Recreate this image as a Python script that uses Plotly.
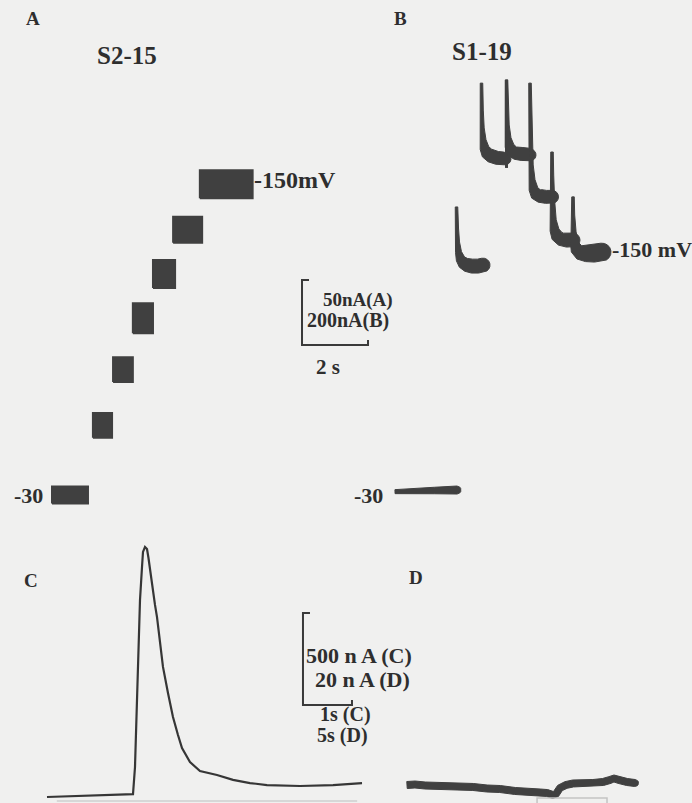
import math
import plotly.graph_objects as go

W, H = 692, 803

# ---------------- DATA ----------------
# Panel A (S2-15): steady current at successive holding potentials
A_voltage_mV = [-30, -50, -70, -90, -110, -130, -150]
A_step_start_s = [0.00, 1.24, 1.85, 2.45, 3.06, 3.67, 4.48]
A_step_end_s = [1.09, 1.82, 2.45, 3.06, 3.73, 4.55, 6.08]
A_current_nA = [0.0, 53.5, 96.5, 136.0, 170.0, 204.0, 239.0]
A_noise_pp_nA = [13.0, 19.0, 19.0, 23.0, 21.5, 20.0, 21.5]

# Panel B (S1-19): holding line at -30 mV and transient currents on stepping
B_hold_t = [0.00, 0.60, 1.20, 1.88]
B_hold_I = [-2.0, 0.0, 1.5, 3.0]
B_hook_t = [
    [1.864, 1.879, 1.894, 1.924, 1.985, 2.076, 2.182, 2.333, 2.515, 2.667],
    [2.621, 2.630, 2.642, 2.667, 2.712, 2.788, 2.909, 3.091, 3.273, 3.333],
    [3.379, 3.379, 3.388, 3.400, 3.424, 3.470, 3.545, 3.667, 3.848, 4.030, 4.091],
    [4.091, 4.100, 4.112, 4.127, 4.152, 4.197, 4.273, 4.394, 4.576, 4.758],
    [4.758, 4.764, 4.776, 4.794, 4.833, 4.909, 5.030, 5.212, 5.394],
    [5.394, 5.400, 5.412, 5.439, 5.500, 5.606, 5.788, 6.030, 6.273],
]
B_hook_I = [
    [874, 809, 766, 735, 714, 702, 695, 692, 692, 695],
    [1255, 1172, 1117, 1080, 1055, 1040, 1031, 1025, 1023, 1022],
    [994, 1265, 1188, 1126, 1086, 1062, 1046, 1040, 1037, 1035, 1034],
    [1255, 1172, 1080, 1003, 957, 929, 914, 908, 905, 905],
    [1043, 972, 895, 834, 803, 785, 775, 772, 772],
    [905, 849, 797, 763, 745, 735, 732, 732, 735],
]

# Panel C: large transient current
C_t = [0.000, 0.878, 1.755, 1.796, 1.837, 1.857, 1.898, 1.939, 1.959, 2.000,
       2.041, 2.071, 2.102, 2.143, 2.204, 2.245, 2.306, 2.367, 2.469, 2.571,
       2.673, 2.755, 2.918, 3.122, 3.469, 3.796, 4.143, 4.490, 5.163, 5.837, 6.429]
C_I = [-11, -5, 5, 152, 516, 788, 1060, 1239, 1321, 1348,
       1337, 1288, 1223, 1152, 1033, 967, 842, 696, 554, 424,
       326, 255, 179, 130, 109, 82, 65, 54, 49, 54, 65]

# Panel D: small slow current
D_t = [0.00, 0.82, 1.84, 3.37, 4.90, 6.74, 8.16, 9.49, 11.02, 12.24, 13.57,
       14.29, 14.90, 15.20, 15.61, 16.22, 16.94, 17.96, 18.98, 20.00, 20.71,
       21.12, 21.63, 22.45, 23.27]
D_I = [0.00, 0.11, -0.11, -0.22, -0.33, -0.43, -0.76, -0.87, -1.30, -1.52, -1.63,
       -1.74, -2.17, -1.96, -0.65, 0.00, 0.33, 0.43, 0.43, 0.65, 1.09,
       1.41, 1.09, 0.65, 0.43]

# stimulus markers (cut at lower edge)
C_marker_t = [0.20, 6.33]
C_marker_I = [-33, -33]
D_marker_t = [13.27, 13.27, 20.41, 20.41]
D_marker_I = [-4.0, -2.8, -2.8, -4.0]

# scale bars
AB_scale = dict(t0=7.576, I0=115.4, dI=50.0, dt=2.0)     # drawn in panel A units
CD_scale = dict(t0=5.224, I0=489.0, dI=500.0, dt=1.0)    # drawn in panel C units

# ---------------- STYLE / LAYOUT ----------------
BG = "#f0f0ef"
INK = "#404040"
TXT = "#2e2e2e"
FONT = "Liberation Serif"

PANEL = {
    "A": dict(ox=52, oy=495, sx=33.0, sy=1.3),
    "B": dict(ox=395, oy=491, sx=33.0, sy=0.325),
    "C": dict(ox=47, oy=795, sx=49.0, sy=0.184),
    "D": dict(ox=407, oy=785, sx=9.8, sy=4.6),
}
AX = {"A": ("x", "y"), "B": ("x2", "y2"), "C": ("x3", "y3"), "D": ("x4", "y4")}

# stroke widths (px) along each B trace
B_hold_w = [4, 5, 6.5, 8]
B_hook_w = [
    [2.5, 3, 4, 6, 9, 12, 13, 14, 14, 14],
    [2.5, 3, 4, 6, 9, 12, 13, 13, 13, 12],
    [3, 2.5, 3, 4, 6, 9, 12, 13, 13, 13, 12],
    [2.5, 3, 3.5, 4, 6, 9, 12, 13, 13, 13],
    [2.5, 3, 4, 6, 9, 12, 13, 14, 14],
    [2.5, 3, 5, 8, 12, 15, 17, 18, 18],
]
D_w = 7

fig = go.Figure()


def add(panel, **kw):
    xa, ya = AX[panel]
    kw.setdefault("hoverinfo", "skip")
    kw.setdefault("showlegend", False)
    fig.add_trace(go.Scatter(xaxis=xa, yaxis=ya, **kw))


def brush(panel, t, I, widths, color=INK):
    """variable-width stroke drawn as a filled outline around the data line"""
    p = PANEL[panel]
    px = [p["ox"] + p["sx"] * a for a in t]
    py = [p["oy"] - p["sy"] * b for b in I]
    n = len(px)
    left, right = [], []
    for i in range(n):
        j0, j1 = max(i - 1, 0), min(i + 1, n - 1)
        tx, ty = px[j1] - px[j0], py[j1] - py[j0]
        L = math.hypot(tx, ty) or 1.0
        nx, ny = -ty / L, tx / L
        h = widths[i] / 2
        left.append((px[i] + nx * h, py[i] + ny * h))
        right.append((px[i] - nx * h, py[i] - ny * h))
    # rounded end cap
    tx, ty = px[-1] - px[-2], py[-1] - py[-2]
    L = math.hypot(tx, ty) or 1.0
    ux, uy = tx / L, ty / L
    h = widths[-1] / 2
    cap = []
    for k in range(1, 8):
        a = math.pi * k / 8
        nx, ny = -uy, ux
        cap.append((px[-1] + h * (nx * math.cos(a) + ux * math.sin(a)),
                    py[-1] + h * (ny * math.cos(a) + uy * math.sin(a))))
    pts = left + cap + right[::-1] + [left[0]]
    add(panel, x=[(q[0] - p["ox"]) / p["sx"] for q in pts],
        y=[(p["oy"] - q[1]) / p["sy"] for q in pts],
        mode="lines", fill="toself", fillcolor=color, line=dict(color=color, width=1))


# Panel A blocks
for t0, t1, c, n in zip(A_step_start_s, A_step_end_s, A_current_nA, A_noise_pp_nA):
    lo, hi = c - n / 2, c + n / 2
    add("A", x=[t0, t1, t1, t0, t0], y=[lo, lo, hi, hi, lo], mode="lines",
        fill="toself", fillcolor=INK, line=dict(color=INK, width=2))

# Panel B
brush("B", B_hold_t, B_hold_I, B_hold_w)
for t, I, w in zip(B_hook_t, B_hook_I, B_hook_w):
    if I[0] < I[1]:  # brief dip before the capacitive spike
        add("B", x=t[:2], y=I[:2], mode="lines", line=dict(color=INK, width=w[0]))
        t, I, w = t[1:], I[1:], w[1:]
    brush("B", t, I, w)

# Panel C
add("C", x=C_t, y=C_I, mode="lines", line=dict(color="#363636", width=2.2))
add("C", x=C_marker_t, y=C_marker_I, mode="lines", line=dict(color="#cfcfcf", width=1.5))

# Panel D
brush("D", D_t, D_I, [D_w] * len(D_t))
add("D", x=D_marker_t, y=D_marker_I, mode="lines", line=dict(color="#c4c4c4", width=1.5))


def scalebar(panel, s):
    t0, I0, dI, dt = s["t0"], s["I0"], s["dI"], s["dt"]
    p = PANEL[panel]
    tick_t = 7 / p["sx"]
    tick_I = 5 / p["sy"]
    add(panel, x=[t0 + tick_t, t0, t0, t0 + dt, t0 + dt],
        y=[I0 + dI, I0 + dI, I0, I0, I0 + tick_I], mode="lines",
        line=dict(color="#3a3a3a", width=2))


scalebar("A", AB_scale)
scalebar("C", CD_scale)

layout_axes = {}
for i, key in enumerate(["A", "B", "C", "D"]):
    p = PANEL[key]
    xr = [-p["ox"] / p["sx"], (W - p["ox"]) / p["sx"]]
    yr = [(p["oy"] - H) / p["sy"], p["oy"] / p["sy"]]
    sfx = "" if i == 0 else str(i + 1)
    xa = dict(domain=[0, 1], range=xr, visible=False, fixedrange=True)
    ya = dict(domain=[0, 1], range=yr, visible=False, fixedrange=True)
    if i > 0:
        xa.update(overlaying="x", anchor="y" + sfx)
        ya.update(overlaying="y", anchor="x" + sfx)
    layout_axes["xaxis" + sfx] = xa
    layout_axes["yaxis" + sfx] = ya

# text labels: (text, left px, centre-y px, size)
labels = [
    ("A", 24, 19, 19),
    ("S2-15", 95, 55, 25),
    ("-150mV", 252, 180, 24),
    ("B", 392, 19, 19),
    ("S1-19", 450, 51, 25),
    ("-150 mV", 610, 249, 22),
    ("50nA(A)", 321, 300, 19),
    ("200nA(B)", 305, 320, 20),
    ("2 s", 314, 367, 21),
    ("-30", 12, 495, 22),
    ("-30", 352, 495, 22),
    ("C", 22, 580, 19),
    ("D", 407, 577, 19),
    ("500 n A (C)", 304, 655, 22),
    ("20 n A (D)", 313, 679, 22),
    ("1s (C)", 318, 714, 20),
    ("5s (D)", 315, 735, 20),
]
annotations = [
    dict(text="<b>%s</b>" % t, x=x / W, y=1 - y / H, xref="paper", yref="paper",
         xanchor="left", yanchor="middle", showarrow=False,
         font=dict(family=FONT, size=s, color=TXT))
    for t, x, y, s in labels
]

fig.update_layout(
    width=W, height=H, autosize=False,
    margin=dict(l=0, r=0, t=0, b=0, pad=0),
    paper_bgcolor=BG, plot_bgcolor=BG,
    annotations=annotations,
    **layout_axes,
)

fig.write_html(
    "out.html",
    config={"displayModeBar": False, "staticPlot": True},
    post_script="document.body.style.margin='0';document.body.style.overflow='hidden';",
)
